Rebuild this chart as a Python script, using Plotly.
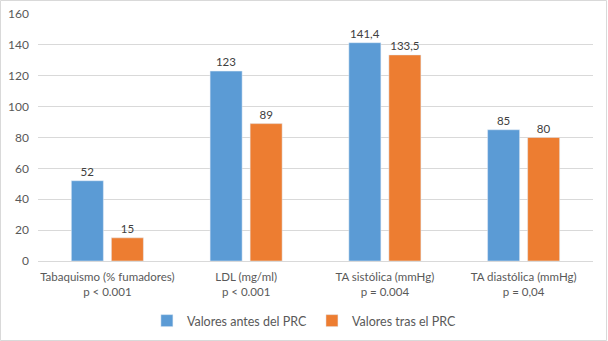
import plotly.graph_objects as go

categories = ["Tabaquismo (% fumadores)<br>p < 0.001", "LDL (mg/ml)<br>p < 0.001",
              "TA sistólica (mmHg)<br>p = 0.004", "TA diastólica (mmHg)<br>p = 0,04"]
antes = [52, 123, 141.4, 85]
tras = [15, 89, 133.5, 80]
antes_labels = ["52", "123", "141,4", "85"]
tras_labels = ["15", "89", "133,5", "80"]

FONT = "Lato, Open Sans, sans-serif"

fig = go.Figure()
fig.add_trace(go.Bar(x=categories, y=antes, name="Valores antes del PRC",
                     marker_color="#5B9BD5", text=antes_labels, textposition="outside",
                     textfont=dict(size=11.5, color="#404040", family=FONT), cliponaxis=False))
fig.add_trace(go.Bar(x=categories, y=tras, name="Valores tras el PRC",
                     marker_color="#ED7D31", text=tras_labels, textposition="outside",
                     textfont=dict(size=11.5, color="#404040", family=FONT), cliponaxis=False))

W, H = 608, 341
ml, mr, mt, mb = 38, 15, 14, 80
pw, ph = W - ml - mr, H - mt - mb

fig.update_layout(
    width=W, height=H,
    margin=dict(l=ml, r=mr, t=mt, b=mb, autoexpand=False),
    paper_bgcolor="white", plot_bgcolor="white",
    barmode="group", bargap=0.423, bargroupgap=0.2,
    font=dict(family=FONT, size=12, color="#595959"),
    showlegend=True,
    legend=dict(orientation="h", x=0.48, xanchor="center", y=-60/ph, yanchor="middle",
                font=dict(size=12.5, color="#595959", family=FONT), itemwidth=30,
                traceorder="normal"),
    xaxis=dict(showline=True, linecolor="#d9d9d9", ticks="", automargin=False,
               tickfont=dict(size=11.5, color="#595959"), ticklabelstandoff=5),
    yaxis=dict(range=[0, 160], dtick=20, showgrid=True, gridcolor="#d9d9d9", zeroline=False,
               showline=False, automargin=False, tickfont=dict(size=12, color="#595959"),
               ticklabelstandoff=8),
    shapes=[dict(type="rect", xref="paper", yref="paper",
                 x0=-(ml - 0.5) / pw, x1=(W - 1.5 - ml) / pw,
                 y0=-(H - 0.5 - (H - mb)) / ph, y1=(H - mb - 0.5) / ph,
                 line=dict(color="#d9d9d9", width=1))],
)

fig.write_html("out.html", config={"displayModeBar": False},
               post_script="document.body.style.margin='0';")
